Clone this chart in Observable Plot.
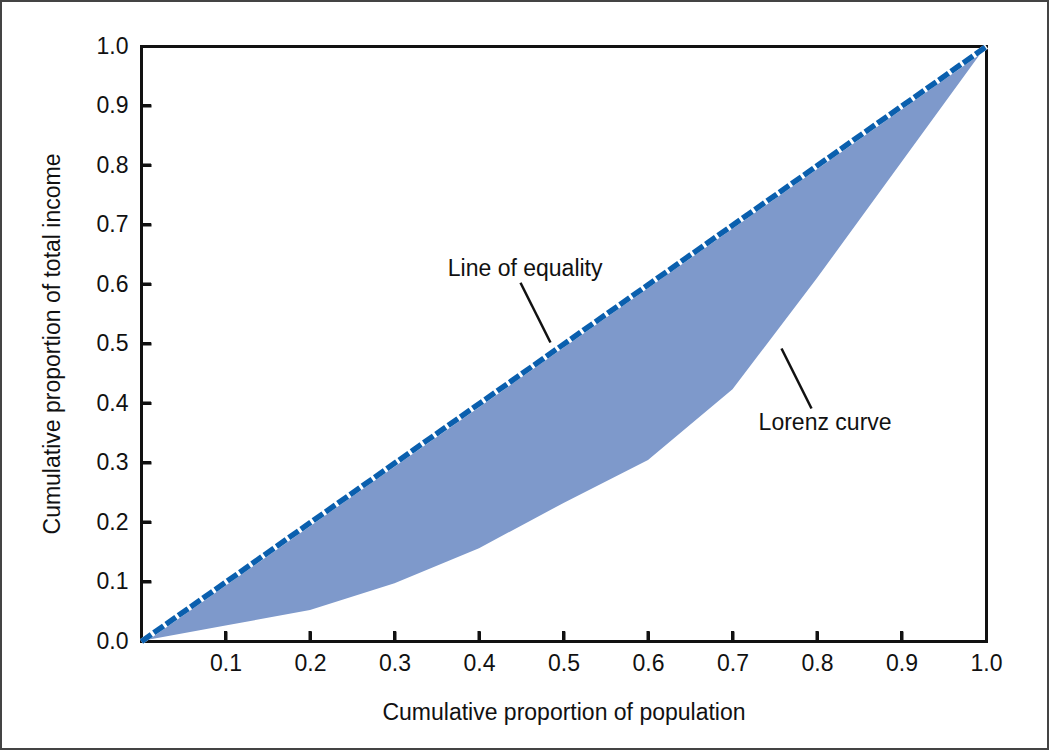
<!DOCTYPE html>
<html>
<head>
<meta charset="utf-8">
<script src="https://cdn.jsdelivr.net/npm/d3@7"></script>
<script src="https://cdn.jsdelivr.net/npm/@observablehq/plot@0.6"></script>
<style>
  body { margin: 0; background: #fff; }
  #wrap { position: relative; width: 1050px; height: 751px; overflow: hidden; }
  #border { position: absolute; left: 0; top: 0; width: 1049px; height: 750px; box-sizing: border-box; border: 2px solid #444; pointer-events: none; }
</style>
</head>
<body>
<div id="wrap"><div id="chart"></div><div id="border"></div></div>
<script>
// Lorenz curve data (cumulative shares)
const populationShare = [0, 0.1, 0.2, 0.3, 0.4, 0.5, 0.6, 0.7, 0.8, 1.0];
const incomeShare     = [0, 0.026, 0.052, 0.097, 0.156, 0.232, 0.304, 0.423, 0.61, 1.0];

// Line of equality
const equalityX = [0, 1];
const equalityY = [0, 1];

// Tick values
const xTickLabels = [0.1, 0.2, 0.3, 0.4, 0.5, 0.6, 0.7, 0.8, 0.9, 1.0];
const yTickLabels = [0.0, 0.1, 0.2, 0.3, 0.4, 0.5, 0.6, 0.7, 0.8, 0.9, 1.0];
const innerTicks  = [0.1, 0.2, 0.3, 0.4, 0.5, 0.6, 0.7, 0.8, 0.9];

// Annotations
const annotationTexts = ["Line of equality", "Lorenz curve"];
const annotationTextX = [0.454, 0.809];
const annotationTextY = [0.615, 0.355];
const leaderX1 = [0.4485, 0.7574];
const leaderY1 = [0.603, 0.4924];
const leaderX2 = [0.484, 0.7929];
const leaderY2 = [0.5025, 0.3916];

const xLabel = "Cumulative proportion of population";
const yLabel = "Cumulative proportion of total income";

const lorenz = populationShare.map((p, i) => ({p, income: incomeShare[i]}));
const equality = equalityX.map((x, i) => ({x, y: equalityY[i]}));
const annotations = annotationTexts.map((t, i) => ({
  t, tx: annotationTextX[i], ty: annotationTextY[i],
  x1: leaderX1[i], y1: leaderY1[i], x2: leaderX2[i], y2: leaderY2[i]
}));

const font = "Liberation Sans, Arial, Helvetica, sans-serif";
const fs = 23;
const fmt = d3.format(".1f");
const W = 1050, H = 751, ML = 141, MR = 64, MT = 46, MB = 110;
const TICK = 10;                       // inward tick length in px
const tickLenX = TICK / (H - MT - MB); // as a fraction of the y domain
const tickLenY = TICK / (W - ML - MR); // as a fraction of the x domain
const halfW = 1.5 / (W - ML - MR);
const halfH = 1.5 / (H - MT - MB);

const chart = Plot.plot({
  width: W,
  height: H,
  marginLeft: ML,
  marginRight: MR,
  marginTop: MT,
  marginBottom: MB,
  style: {fontFamily: font, fontSize: fs + "px", color: "#111", background: "transparent"},
  x: {domain: [0, 1]},
  y: {domain: [0, 1]},
  marks: [
    Plot.areaY(lorenz, {x: "p", y1: "income", y2: "p", fill: "#7e99cb"}),
    Plot.frame({stroke: "#111", strokeWidth: 3}),
    // inward ticks (filled rectangles + links, overlapping)
    Plot.rect(innerTicks, {x1: d => d - halfW, x2: d => d + halfW, y1: 0, y2: tickLenX, fill: "#111"}),
    Plot.rect(innerTicks, {y1: d => d - halfH, y2: d => d + halfH, x1: 0, x2: tickLenY, fill: "#111"}),
    Plot.link(innerTicks, {x1: d => d, x2: d => d, y1: 0, y2: tickLenX, stroke: "#111", strokeWidth: 3}),
    Plot.link(innerTicks, {y1: d => d, y2: d => d, x1: 0, x2: tickLenY, stroke: "#111", strokeWidth: 3}),
    Plot.axisX({ticks: xTickLabels, tickFormat: fmt, tickSize: 0, tickPadding: 13, fontSize: fs, label: null}),
    Plot.axisY({ticks: yTickLabels, tickFormat: fmt, tickSize: 0, tickPadding: 13, fontSize: fs, label: null}),
    Plot.line(equality, {x: "x", y: "y", stroke: "white", strokeWidth: 5.5, strokeLinecap: "butt"}),
    Plot.line(equality, {x: "x", y: "y", stroke: "#0a5fae", strokeWidth: 5.5, strokeDasharray: "12,3", strokeLinecap: "butt"}),
    Plot.link(annotations, {x1: "x1", y1: "y1", x2: "x2", y2: "y2", stroke: "#111", strokeWidth: 2.5}),
    Plot.text(annotations, {x: "tx", y: "ty", text: "t", fontSize: fs, fill: "#111", lineAnchor: "bottom", textAnchor: "middle"}),
    Plot.text([xLabel], {text: d => d, frameAnchor: "bottom", dy: 71, fontSize: fs, fill: "#111", lineAnchor: "middle", textAnchor: "middle"}),
    Plot.text([yLabel], {text: d => d, frameAnchor: "left", dx: -89, rotate: -90, fontSize: fs, fill: "#111", lineAnchor: "middle", textAnchor: "middle"})
  ]
});
// push inherited stroke styles onto the paths themselves (some renderers ignore inherited values)
d3.select(chart).selectAll("g").each(function() {
  const g = d3.select(this);
  const attrs = ["stroke", "stroke-width", "stroke-dasharray", "stroke-linecap", "fill"];
  g.selectAll(":scope > path, :scope > rect").each(function() {
    const p = d3.select(this);
    attrs.forEach(a => { const v = g.attr(a); if (v != null && p.attr(a) == null) p.attr(a, v === "currentColor" ? "#111" : v); });
  });
});
document.getElementById("chart").appendChild(chart);
</script>
</body>
</html>
